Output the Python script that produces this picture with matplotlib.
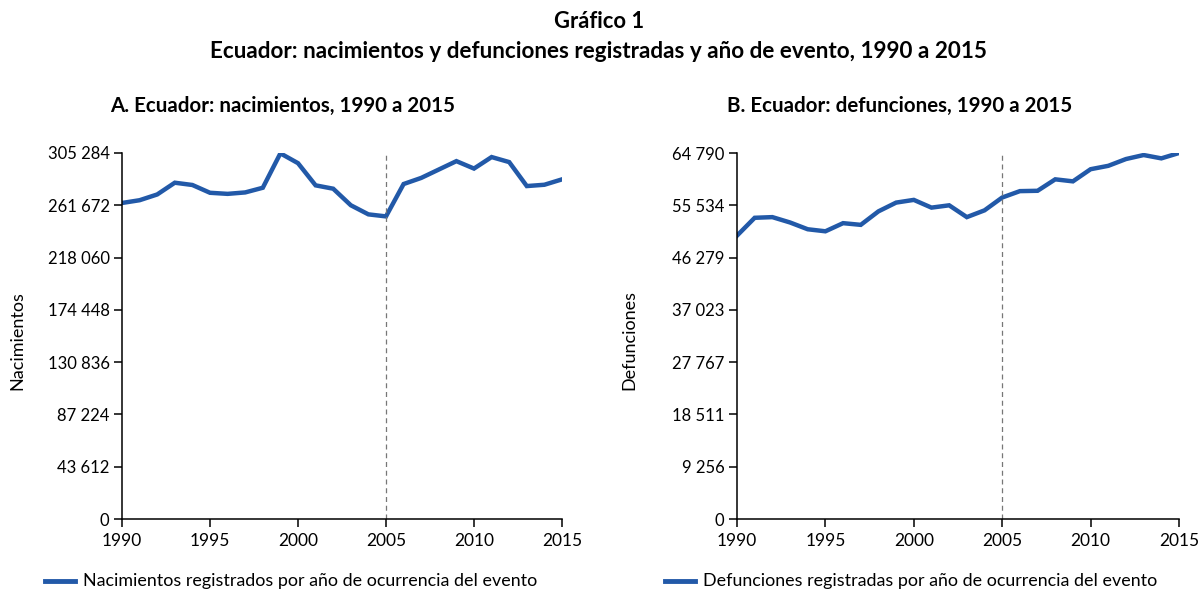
import matplotlib.pyplot as plt
from matplotlib.lines import Line2D

plt.rcParams['font.family'] = ['Lato', 'DejaVu Sans']

years = list(range(1990, 2016))
nacimientos = [263600, 265900, 270700, 280500, 278600, 272100, 271200, 272400, 276300, 305000,
               296800, 278300, 275500, 261700, 254100, 252400, 279400, 284500, 291500, 298500,
               292300, 301900, 297700, 277700, 278800, 283300]
defunciones = [50160, 53320, 53440, 52490, 51290, 50930, 52370, 52070, 54460, 56010,
               56490, 55120, 55530, 53440, 54640, 56910, 58040, 58100, 60130, 59770,
               61920, 62520, 63720, 64430, 63840, 64790]
nac_ticks = [0, 43612, 87224, 130836, 174448, 218060, 261672, 305284]
def_ticks = [0, 9256, 18511, 27767, 37023, 46279, 55534, 64790]
x_ticks = [1990, 1995, 2000, 2005, 2010, 2015]

color = '#2259a8'

def fmt(v):
    return '{:,}'.format(v).replace(',', ' ')

fig = plt.figure(figsize=(11.98, 5.92), dpi=100)

def panel(rect, values, ticks, ylabel, title, title_x, legend_text, leg_x, ylabel_x):
    ax = fig.add_axes(rect)
    ax.plot(years, values, color=color, linewidth=3.2, solid_joinstyle='miter')
    ax.axvline(2005, color='#777777', linestyle=(0, (4, 3)), linewidth=0.9)
    ax.set_xlim(1990, 2015)
    ax.set_ylim(0, ticks[-1])
    ax.set_yticks(ticks)
    ax.set_yticklabels([fmt(t) for t in ticks], fontsize=12)
    ax.set_xticks(x_ticks)
    ax.set_xticklabels([str(t) for t in x_ticks], fontsize=12.5)
    ax.tick_params(direction='out', length=6, width=1.1, pad=3)
    ax.tick_params(axis='x', pad=4)
    for s in ['top', 'right']:
        ax.spines[s].set_visible(False)
    for s in ['left', 'bottom']:
        ax.spines[s].set_linewidth(1.1)
    ax.spines['left'].set_bounds(0, ticks[-1])
    fig.text(ylabel_x, 0.425, ylabel, rotation=90, ha='center', va='center', fontsize=13)
    fig.text(title_x, 1 - 106 / 592, title, ha='left', va='center', fontsize=14.8, fontweight='bold')
    fig.add_artist(Line2D([leg_x, leg_x + 30 / 1198], [1 - 581 / 592] * 2, color=color, linewidth=3.5))
    fig.text(leg_x + 38 / 1198, 1 - 581 / 592, legend_text, ha='left', va='center', fontsize=12.9)
    return ax

panel([122 / 1198, 1 - 519 / 592, 440 / 1198, 366 / 592], nacimientos, nac_ticks, 'Nacimientos',
      'A. Ecuador: nacimientos, 1990 a 2015', 110 / 1198,
      'Nacimientos registrados por año de ocurrencia del evento', 45 / 1198, 17 / 1198)
panel([737 / 1198, 1 - 519 / 592, 442 / 1198, 366 / 592], defunciones, def_ticks, 'Defunciones',
      'B. Ecuador: defunciones, 1990 a 2015', 727 / 1198,
      'Defunciones registradas por año de ocurrencia del evento', 665 / 1198, 629 / 1198)

fig.text(0.5, 1 - 21 / 592, 'Gráfico 1', ha='center', va='center', fontsize=15.8, fontweight='bold')
fig.text(0.5, 1 - 51 / 592, 'Ecuador: nacimientos y defunciones registradas y año de evento, 1990 a 2015',
         ha='center', va='center', fontsize=16.2, fontweight='bold')

fig.savefig('out.png', dpi=100)
